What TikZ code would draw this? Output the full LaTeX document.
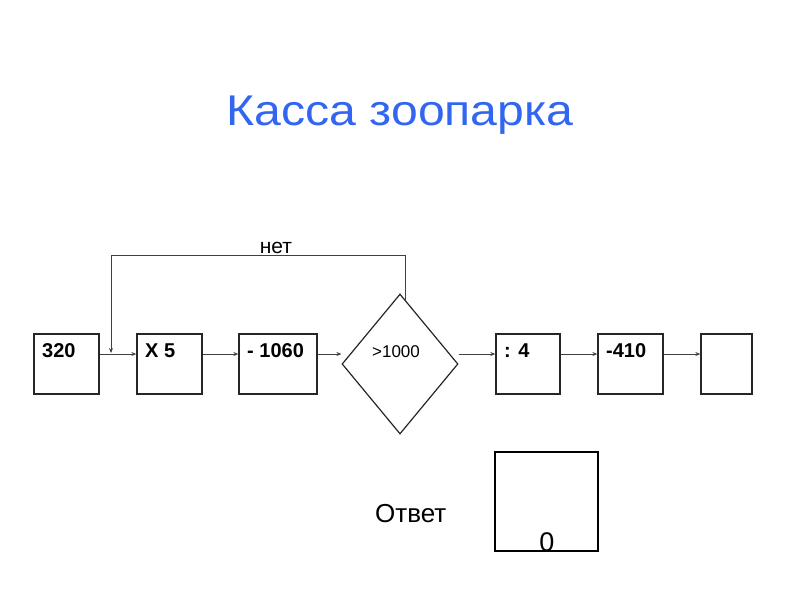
\documentclass[tikz,border=0pt]{standalone}
\usepackage{fontspec}
\setmainfont{Liberation Sans}
\usetikzlibrary{shapes.geometric,arrows.meta,calc}
\definecolor{titleblue}{RGB}{51,102,240}
\begin{document}
\begin{tikzpicture}[x=1pt,y=-1pt,
  stepbox/.style={draw=black!85,line width=1.3pt,rectangle,inner sep=0pt,minimum width=#1,minimum height=60pt},
  boxtext/.style={anchor=base west,inner sep=0pt,font=\fontsize{20}{20}\selectfont\bfseries},
  conn/.style={draw=black!75,line width=1pt,-{Stealth[length=5pt,width=4pt]}},
  lbl/.style={inner sep=0pt}]
\useasboundingbox (0,0) rectangle (800,600);
\node[lbl,anchor=base,text=titleblue,font=\fontsize{43}{43}\selectfont] (title) at (400,125) {\scalebox{1.12}[1]{Касса зоопарка}};
% boxes
\node[stepbox=65pt] (b1) at (66.5,364) {};
\node[stepbox=65pt] (b2) at (169.5,364) {};
\node[stepbox=78pt] (b3) at (278,364) {};
\node[draw=black!85,line width=1.2pt,diamond,inner sep=0pt,minimum width=116pt,minimum height=140pt,aspect=0.83] (d) at (400,364) {};
\node[stepbox=64pt] (b4) at (528,364) {};
\node[stepbox=65pt] (b5) at (630.5,364) {};
\node[stepbox=51pt] (b6) at (726.5,364) {};
% texts
\node[boxtext] (t1) at (42,357) {320};
\node[boxtext] (t2) at (145,357) {X 5};
\node[boxtext] (t3) at (247,357) {- 1060};
\node[lbl,anchor=base,font=\fontsize{17}{17}\selectfont] (t4) at (396,357) {>1000};
\node[boxtext] (t5) at (504,357) {: 4};
\node[boxtext] (t6) at (606,357) {-410};
% connectors
\draw[conn] ([yshift=10pt]b1.east) -- ([yshift=10pt]b2.west);
\draw[conn] ([yshift=10pt]b2.east) -- ([yshift=10pt]b3.west);
\draw[conn] ([yshift=10pt]b3.east) -- ([yshift=10pt]d.west);
\draw[conn] ([yshift=10pt]d.east) -- ([yshift=10pt]b4.west);
\draw[conn] ([yshift=10pt]b4.east) -- ([yshift=10pt]b5.west);
\draw[conn] ([yshift=10pt]b5.east) -- ([yshift=10pt]b6.west);
% feedback
\coordinate (fbstart) at ($(d.north)!0.09!(d.east)$);
\coordinate (fbend) at (111,353);
\draw[conn] (fbstart) -- (fbstart |- 0,255) -- (111,255) -- (fbend);
\node[lbl,anchor=base,font=\fontsize{21}{21}\selectfont] (net) at (276,253) {нет};
% answer
\node[lbl,anchor=base west,font=\fontsize{26}{26}\selectfont] (otv) at (375,522) {Ответ};
\node[draw=black,line width=2pt,rectangle,inner sep=0pt,minimum width=103pt,minimum height=99pt] (ans) at (546.5,501.5) {};
\node[lbl,anchor=base,font=\fontsize{27}{27}\selectfont] (zero) at (547,551) {0};
\end{tikzpicture}
\end{document}
